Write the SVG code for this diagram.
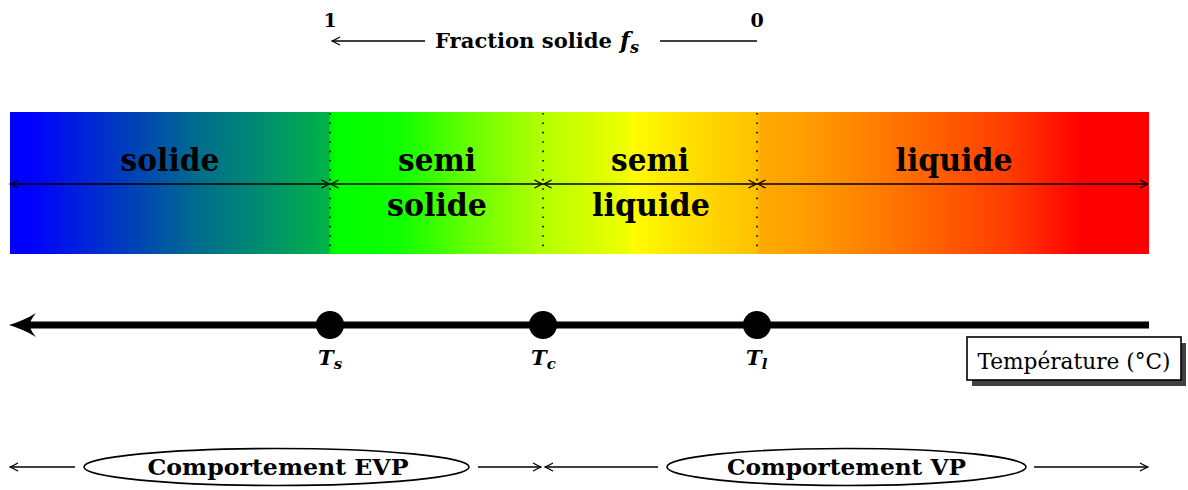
<svg xmlns="http://www.w3.org/2000/svg" width="1188" height="490" viewBox="0 0 1188 490">
  <defs>
    <linearGradient id="temp" gradientUnits="userSpaceOnUse" x1="10" y1="0" x2="1149" y2="0">
      <stop offset="0" stop-color="#0000ff"/>
      <stop offset="0.0176" stop-color="#0000ff"/>
      <stop offset="0.1054" stop-color="#0040b8"/>
      <stop offset="0.1668" stop-color="#006e8c"/>
      <stop offset="0.2195" stop-color="#008c70"/>
      <stop offset="0.2800" stop-color="#00b446"/>
      <stop offset="0.2810" stop-color="#00f000"/>
      <stop offset="0.2862" stop-color="#00ff00"/>
      <stop offset="0.3424" stop-color="#10ff00"/>
      <stop offset="0.4039" stop-color="#66ff00"/>
      <stop offset="0.4680" stop-color="#b4ff00"/>
      <stop offset="0.5180" stop-color="#dcff00"/>
      <stop offset="0.5435" stop-color="#f0ff00"/>
      <stop offset="0.5443" stop-color="#ffff00"/>
      <stop offset="0.5707" stop-color="#ffee00"/>
      <stop offset="0.6558" stop-color="#ffbf00"/>
      <stop offset="0.6585" stop-color="#ffaa00"/>
      <stop offset="0.6936" stop-color="#ffa000"/>
      <stop offset="0.7884" stop-color="#ff6e00"/>
      <stop offset="0.8762" stop-color="#ff3c00"/>
      <stop offset="0.9394" stop-color="#ff0000"/>
      <stop offset="1" stop-color="#ff0000"/>
    </linearGradient>
    <marker id="to" viewBox="-9 -5 10 10" refX="0" refY="0" markerWidth="10" markerHeight="10" orient="auto-start-reverse" markerUnits="userSpaceOnUse">
      <path d="M-7.5,-3.8 Q-2.5,-0.9 0,0 Q-2.5,0.9 -7.5,3.8" fill="none" stroke="#000" stroke-width="1.3" stroke-linecap="round"/>
    </marker>
  </defs>
  <style>
    .bx { font-family: "DejaVu Serif", "Liberation Serif", serif; font-weight: bold; fill: #000; }
    .big { font-size: 31px; text-anchor: middle; }
    .mid { font-size: 23px; text-anchor: middle; }
    .sm { font-size: 21px; }
    .it { font-style: italic; }
    .reg { font-family: "DejaVu Serif", "Liberation Serif", serif; font-size: 22px; text-anchor: middle; fill: #000; }
    .dot { stroke: #000; stroke-width: 1.6; stroke-dasharray: 1.6 7.8; }
    .ar { stroke: #000; stroke-width: 1.5; fill: none; marker-end: url(#to); }
    .dar { stroke: #000; stroke-width: 1.6; fill: none; marker-start: url(#to); marker-end: url(#to); }
    .pt { fill: #000; }
    .ell { fill: #fff; stroke: #000; stroke-width: 1.6; }
  </style>
  <rect width="1188" height="490" fill="#fff"/>

  <!-- fraction solide header -->
  <g id="fraction">
    <text class="bx" x="330" y="27" font-size="19" text-anchor="middle">1</text>
    <text class="bx" x="757" y="27" font-size="19" text-anchor="middle">0</text>
    <text class="bx sm" x="435" y="48" textLength="177" lengthAdjust="spacingAndGlyphs">Fraction solide</text>
    <text class="bx it" x="620" y="48" font-size="23">f<tspan font-size="16" dy="5">s</tspan></text>
  </g>

  <!-- colour band -->
  <g id="band">
    <rect x="10" y="112" width="1139" height="142" fill="url(#temp)"/>
    <line class="dot" x1="330" y1="113" x2="330" y2="254"/>
    <line class="dot" x1="543" y1="113" x2="543" y2="254"/>
    <line class="dot" x1="757" y1="113" x2="757" y2="254"/>
  </g>
  <g id="zone-solide">
    <text class="bx big" x="170" y="171" textLength="99" lengthAdjust="spacingAndGlyphs">solide</text>
  </g>
  <g id="zone-semisolide">
    <text class="bx big" x="437" y="171" textLength="78" lengthAdjust="spacingAndGlyphs">semi</text>
    <text class="bx big" x="437" y="216" textLength="100" lengthAdjust="spacingAndGlyphs">solide</text>
  </g>
  <g id="zone-semiliquide">
    <text class="bx big" x="650" y="171" textLength="78" lengthAdjust="spacingAndGlyphs">semi</text>
    <text class="bx big" x="651" y="216" textLength="118" lengthAdjust="spacingAndGlyphs">liquide</text>
  </g>
  <g id="zone-liquide">
    <text class="bx big" x="954" y="171" textLength="117" lengthAdjust="spacingAndGlyphs">liquide</text>
  </g>

  <!-- temperature axis -->
  <g id="axis">
    <line x1="28" y1="325" x2="1149" y2="325" stroke="#000" stroke-width="7"/>
    <path d="M9,325 Q24,320.5 36,313 Q30,320 30,325 Q30,330 36,337 Q24,329.5 9,325 Z" fill="#000"/>
  </g>
  <g id="Ts">
    <circle class="pt" cx="330" cy="325" r="14"/>
    <text class="bx it" x="318" y="365" font-size="21">T<tspan font-size="15" dy="4">s</tspan></text>
  </g>
  <g id="Tc">
    <circle class="pt" cx="543" cy="325" r="14"/>
    <text class="bx it" x="531" y="365" font-size="21">T<tspan font-size="15" dy="4">c</tspan></text>
  </g>
  <g id="Tl">
    <circle class="pt" cx="757" cy="325" r="14"/>
    <text class="bx it" x="746" y="365" font-size="21">T<tspan font-size="15" dy="4">l</tspan></text>
  </g>
  <g id="temperature-label">
    <rect x="972" y="343" width="214" height="43" fill="#404040"/>
    <rect x="967" y="337" width="214" height="43" fill="#fff" stroke="#000" stroke-width="1.6"/>
    <text class="reg" x="1074" y="369" textLength="193" lengthAdjust="spacingAndGlyphs">Température (°C)</text>
  </g>

  <!-- behaviour ellipses -->
  <g id="evp">
    <ellipse class="ell" cx="276.5" cy="467" rx="192.5" ry="18.5"/>
    <text class="bx mid" x="278" y="475" textLength="261" lengthAdjust="spacingAndGlyphs">Comportement EVP</text>
  </g>
  <g id="vp">
    <ellipse class="ell" cx="846.5" cy="467" rx="179.5" ry="18.5"/>
    <text class="bx mid" x="846.5" y="475" textLength="239" lengthAdjust="spacingAndGlyphs">Comportement VP</text>
  </g>

  <!-- connectors -->
  <g id="connectors">
    <line class="ar" x1="425" y1="41" x2="332" y2="41"/>
    <line x1="660" y1="41" x2="757" y2="41" stroke="#000" stroke-width="1.5"/>
    <line class="dar" x1="10" y1="184" x2="329.5" y2="184"/>
    <line class="dar" x1="330.5" y1="184" x2="542.5" y2="184"/>
    <line class="dar" x1="543.5" y1="184" x2="756.5" y2="184"/>
    <line class="dar" x1="757.5" y1="184" x2="1148" y2="184"/>
    <line class="ar" x1="75" y1="467" x2="10" y2="467"/>
    <line class="ar" x1="478" y1="467" x2="541" y2="467"/>
    <line class="ar" x1="658" y1="467" x2="545" y2="467"/>
    <line class="ar" x1="1034" y1="467" x2="1148" y2="467"/>
  </g>
</svg>
